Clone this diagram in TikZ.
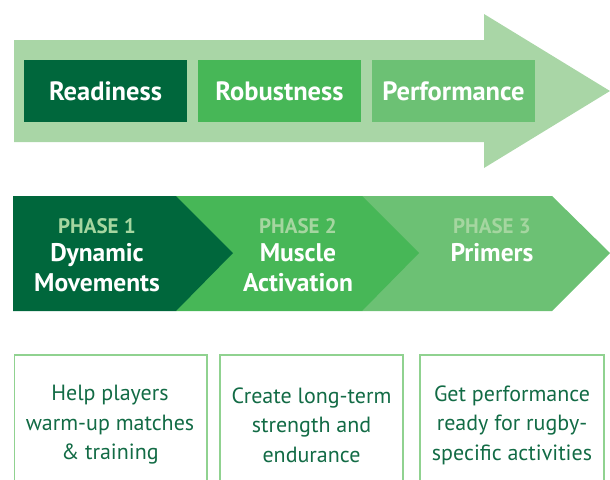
\documentclass[tikz,border=0pt]{standalone}
\usepackage{fontspec}
\setmainfont{PT Sans}
\definecolor{gdark}{HTML}{00673C}
\definecolor{gmid}{HTML}{47B757}
\definecolor{glight}{HTML}{6CC174}
\definecolor{garrow}{HTML}{A9D6A6}
\definecolor{gphase}{HTML}{A5D6A0}
\definecolor{gborder}{HTML}{90D290}
\definecolor{gtext}{HTML}{126B45}
\begin{document}
\begin{tikzpicture}[x=1pt,y=-1pt,
  stagebox/.style={minimum width=163pt,minimum height=62pt,inner sep=0pt,text=white,
    font=\fontsize{26.5}{30}\selectfont\bfseries},
  phaselbl/.style={text=gphase,font=\fontsize{21}{24}\selectfont\bfseries,inner sep=0pt},
  phasename/.style={text=white,font=\fontsize{25.5}{30}\selectfont\bfseries,align=center,inner sep=0pt},
  infobox/.style={draw=gborder,line width=1.2pt},
  infotext/.style={text=gtext,font=\fontsize{22}{29.5}\selectfont,align=center,inner sep=0pt}]
\useasboundingbox (0,0) rectangle (610,479);
% big arrow
\fill[garrow] (14,40) -- (484,40) -- (484,14) -- (610,91) -- (484,168) -- (484,142) -- (14,142) -- cycle;
\node[stagebox,fill=gdark] (ready) at (105.5,91) {Readiness};
\node[stagebox,fill=gmid] (robust) at (279.5,91) {Robustness};
\node[stagebox,fill=glight] (perf) at (453.5,91) {Performance};
% chevrons
\fill[glight] (362,196) -- (552,196) -- (610,253) -- (552,311) -- (362,311) -- cycle;
\fill[gmid] (176,196) -- (362,196) -- (419,253) -- (362,311) -- (176,311) -- cycle;
\fill[gdark] (13,196) -- (176,196) -- (233,253) -- (176,311) -- (13,311) -- cycle;
\node[phaselbl] (p1) at (97,226) {PHASE 1};
\node[phasename,anchor=north] (n1) at (97,243) {Dynamic\\Movements};
\node[phaselbl] (p2) at (298,226) {PHASE 2};
\node[phasename,anchor=north] (n2) at (298,243) {Muscle\\Activation};
\node[phaselbl] (p3) at (492,226) {PHASE 3};
\node[phasename,anchor=north] (n3) at (492,243) {Primers};
% info boxes
\begin{scope}
\clip (0,0) rectangle (610,479);
\draw[infobox] (14.5,355) rectangle (207,490);
\draw[infobox] (220,355) rectangle (403,490);
\draw[infobox] (420,355) rectangle (604,490);
\end{scope}
\node[infotext] (t1) at (110,425) {Help players\\warm-up matches\\\& training};
\node[infotext] (t2) at (311.5,425) {Create long-term\\strength and\\endurance};
\node[infotext] (t3) at (512,425) {Get performance\\ready for rugby-\\specific activities};
\end{tikzpicture}
\end{document}
